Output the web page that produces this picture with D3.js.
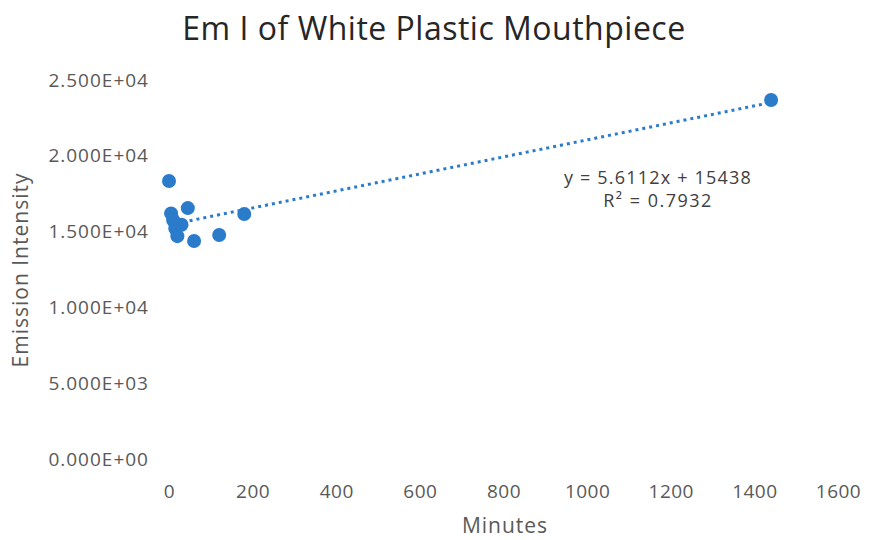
<!DOCTYPE html>
<html>
<head>
<meta charset="utf-8">
<script src="https://cdn.jsdelivr.net/npm/d3@7"></script>
<style>
  body { margin: 0; background: #fff; }
  text { font-family: "Open Sans", sans-serif; }
</style>
</head>
<body>
<div id="chart"></div>
<script>
// sampling times (minutes) and the measured emission intensity
var minutes = [0, 5, 10, 15, 20, 30, 45, 60, 120, 180, 1440];
var intensity = [18340, 16200, 15750, 15200, 14700, 15450, 16550, 14380, 14780, 16160, 23680];

// trendline as printed on the chart
var slope = 5.6112;
var intercept = 15438;
var rSquared = '0.7932';

var xTicks = [0, 200, 400, 600, 800, 1000, 1200, 1400, 1600];
var yTicks = [0, 5000, 10000, 15000, 20000, 25000];

var width = 873, height = 540;
var margin = { left: 169, right: 35, top: 80, bottom: 81 };

var svg = d3.select('#chart').append('svg')
  .attr('width', width)
  .attr('height', height);

var x = d3.scaleLinear()
  .domain([0, 1600])
  .range([margin.left, width - margin.right]);

var y = d3.scaleLinear()
  .domain([0, 25000])
  .range([height - margin.bottom, margin.top]);

// title
svg.append('text')
  .attr('x', 434)
  .attr('y', 40)
  .attr('text-anchor', 'middle')
  .attr('font-size', 32)
  .attr('letter-spacing', 0.5)
  .attr('fill', '#262626')
  .text('Em I of White Plastic Mouthpiece');

// axes, no lines just labels
var xAxis = svg.append('g')
  .attr('transform', 'translate(0,' + (height - margin.bottom) + ')')
  .call(d3.axisBottom(x).tickValues(xTicks).tickSize(0).tickPadding(26)
    .tickFormat(d3.format('d')));
xAxis.select('.domain').remove();
xAxis.selectAll('text')
  .attr('font-size', 19)
  .attr('letter-spacing', 0.5)
  .attr('fill', '#595959')
  .style('font-family', '"Open Sans", sans-serif');

var yAxis = svg.append('g')
  .attr('transform', 'translate(' + 149 + ',0)')
  .call(d3.axisLeft(y).tickValues(yTicks).tickSize(0).tickPadding(0)
    .tickFormat(function(d) {
      return d3.format('.3e')(d).replace('e', 'E').replace(/E([+-])(\d)$/, 'E$10$2');
    }));
yAxis.select('.domain').remove();
yAxis.selectAll('text')
  .attr('font-size', 19)
  .attr('letter-spacing', 1)
  .attr('fill', '#595959')
  .style('font-family', '"Open Sans", sans-serif');

// axis titles
svg.append('text')
  .attr('x', 505)
  .attr('y', 533)
  .attr('text-anchor', 'middle')
  .attr('font-size', 21)
  .attr('letter-spacing', 1)
  .attr('fill', '#595959')
  .text('Minutes');

svg.append('text')
  .attr('transform', 'translate(28,' + 270 + ') rotate(-90)')
  .attr('text-anchor', 'middle')
  .attr('font-size', 21)
  .attr('letter-spacing', 1)
  .attr('fill', '#595959')
  .text('Emission Intensity');

// dotted linear trendline
var trendX = d3.extent(minutes);
svg.append('line')
  .attr('x1', x(trendX[0]))
  .attr('y1', y(intercept + slope * trendX[0]))
  .attr('x2', x(trendX[1]))
  .attr('y2', y(intercept + slope * trendX[1]))
  .attr('stroke', '#2b7bcb')
  .attr('stroke-width', 3)
  .attr('stroke-dasharray', '3,4');

// points
svg.selectAll('circle')
  .data(minutes)
  .enter()
  .append('circle')
    .attr('cx', function(d) { return x(d); })
    .attr('cy', function(d, i) { return y(intensity[i]); })
    .attr('r', 7)
    .attr('fill', '#2b7bcb');

// equation label
svg.append('text')
  .attr('x', 658)
  .attr('y', 184)
  .attr('text-anchor', 'middle')
  .attr('font-size', 18)
  .attr('letter-spacing', 1.2)
  .attr('fill', '#404040')
  .text('y = ' + slope + 'x + ' + intercept);

svg.append('text')
  .attr('x', 658)
  .attr('y', 207)
  .attr('text-anchor', 'middle')
  .attr('font-size', 18)
  .attr('letter-spacing', 1.5)
  .attr('fill', '#404040')
  .text('R\u00b2 = ' + rSquared);
</script>
</body>
</html>
